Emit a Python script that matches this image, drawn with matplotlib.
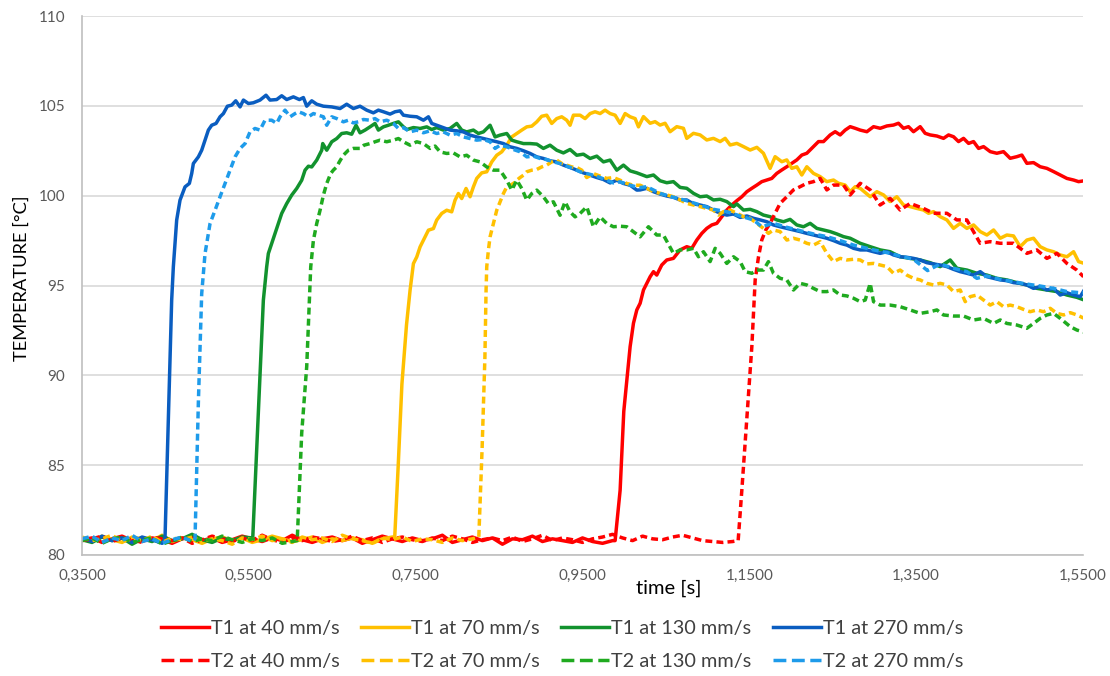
import numpy as np
import matplotlib
matplotlib.use("Agg")
import matplotlib.pyplot as plt
from matplotlib.lines import Line2D

# ---------------- data (time [s], temperature [°C]) ----------------
BASE_START = 0.35
BASE_STEP = 0.012

# flat pre-heating part of each record (one value every BASE_STEP s from 0.35 s)
t1_40_base = [80.85, 80.95, 80.7, 80.9, 81.05, 80.8, 80.75, 80.95, 80.85, 80.65, 80.9, 81.0, 80.8, 80.95,
              80.7, 80.85, 81.05, 80.9, 80.75, 80.95, 80.8, 81.1, 80.85, 80.7, 80.9, 81.0, 80.8, 80.95,
              80.65, 80.85, 81.05, 80.9, 80.75, 80.95, 80.8, 80.9, 81.1, 80.7, 80.85, 81.0, 80.8, 80.95,
              80.6, 80.9, 80.85, 81.05, 80.75, 80.9, 80.8, 80.7, 80.95, 80.75, 80.65, 80.8]
t1_70_base = [80.9, 80.75, 81.05, 80.85, 80.7, 81.0, 80.9, 80.8, 81.1, 80.75, 80.95, 80.85, 80.65, 80.9,
              81.0, 80.8, 80.95, 80.7, 80.85, 81.05, 80.9, 80.75, 80.85, 81.0, 80.7, 80.9, 80.8, 80.95,
              80.85, 80.65, 80.9, 81.0]
t1_130_base = [80.85, 80.7, 81.0, 80.8, 80.95, 80.6, 80.9, 80.75, 81.05, 80.8, 80.9, 81.15, 80.85, 80.7,
               80.95, 80.8, 81.0]
t1_270_base = [80.95, 80.75, 81.05, 80.8, 80.95, 80.7, 81.0, 80.85, 80.65]
t2_40_base = [80.8, 80.9, 81.05, 80.75, 80.95, 80.85, 80.7, 81.0, 80.9, 80.8, 80.95, 80.65, 80.85, 81.05,
              80.9, 80.75, 80.95, 80.8, 81.1, 80.85, 80.7, 80.95, 80.8, 81.0, 80.9, 80.75, 80.85, 81.05,
              80.8, 80.95, 80.7, 80.9, 81.0, 80.85, 80.75, 80.95, 80.8, 81.05, 80.9, 80.7, 80.85, 80.95,
              80.8, 81.0, 80.75, 80.9, 81.1, 80.8, 80.95, 80.85, 80.7, 80.9, 81.0, 81.15, 80.95, 80.8,
              81.05, 80.9, 80.85, 81.0, 81.1, 80.95, 80.8, 80.75, 80.7, 80.75]
t2_70_base = [81.0, 80.8, 80.9, 81.1, 80.75, 80.9, 80.8, 81.05, 80.7, 80.95, 80.85, 81.0, 80.75, 80.9,
              80.8, 80.6, 80.95, 80.85, 81.05, 80.8, 80.9, 80.7, 81.0, 80.85, 80.95, 80.75, 81.1, 80.9,
              80.8, 80.65, 80.95, 80.85, 81.0, 80.75, 80.9, 80.85, 80.7, 80.95, 80.8, 80.9]
t2_130_base = [80.8, 80.95, 80.65, 80.9, 81.0, 80.7, 80.85, 80.95, 80.6, 80.8, 81.0, 80.75, 80.9, 80.8,
               81.05, 80.85, 80.7, 80.9, 80.8, 80.95, 80.65, 80.75]
t2_270_base = [80.9, 81.05, 80.7, 80.95, 80.8, 81.1, 80.75, 80.9, 80.65, 80.85, 81.0, 80.75]

# heating / cooling part: (time, temperature)
t1_270_pts = [
    (0.4495, 80.9), (0.4535, 87.5), (0.4575, 94.18), (0.4595, 96.04), (0.4635, 98.64), (0.4675, 99.75),
    (0.4735, 100.49), (0.4787, 100.68), (0.4815, 101.23), (0.4835, 101.79), (0.4895, 102.16),
    (0.4935, 102.53), (0.4975, 103.09), (0.5015, 103.65), (0.5055, 103.92), (0.5107, 104.02),
    (0.5155, 104.39), (0.5195, 104.57), (0.5243, 104.98), (0.5295, 105.04), (0.5343, 105.28),
    (0.5395, 104.94), (0.5435, 105.32), (0.5495, 105.13), (0.5554, 105.17), (0.5634, 105.32),
    (0.5706, 105.59), (0.5754, 105.32), (0.5834, 105.35), (0.5894, 105.56), (0.5954, 105.35),
    (0.6034, 105.50), (0.6106, 105.35), (0.6154, 105.46), (0.6194, 104.98), (0.6254, 105.28),
    (0.6314, 105.09), (0.6394, 104.98), (0.6494, 104.94), (0.6594, 104.85), (0.6673, 105.09),
    (0.6753, 104.85), (0.6833, 104.98), (0.6913, 104.76), (0.6993, 104.61), (0.7053, 104.76),
    (0.7113, 104.67), (0.7193, 104.54), (0.7253, 104.67), (0.7313, 104.72), (0.7353, 104.48),
    (0.7433, 104.42), (0.7513, 104.39), (0.7593, 104.20), (0.7653, 104.39), (0.7693, 104.02),
    (0.7752, 103.92), (0.7832, 103.79), (0.7912, 103.65), (0.7992, 103.61), (0.8072, 103.55),
    (0.8152, 103.37), (0.8232, 103.27), (0.8312, 103.18), (0.8392, 103.09), (0.8472, 103.00),
    (0.8552, 102.90), (0.8632, 102.72), (0.8712, 102.63), (0.8792, 102.50), (0.8872, 102.35),
    (0.8952, 102.16), (0.9031, 102.07), (0.9111, 101.94), (0.9191, 101.88), (0.9271, 101.70),
    (0.9351, 101.57), (0.9431, 101.42), (0.9511, 101.27), (0.9591, 101.14), (0.9671, 101.01),
    (0.9751, 100.90), (0.9831, 100.71), (0.9911, 100.86), (0.9991, 100.68), (1.0071, 100.58),
    (1.0151, 100.31), (1.0191, 100.32), (1.0271, 100.41), (1.0351, 100.22), (1.0430, 100.09),
    (1.0510, 99.98), (1.0590, 99.91), (1.0670, 99.76), (1.0750, 99.76), (1.0830, 99.54),
    (1.0910, 99.48), (1.0990, 99.39), (1.1070, 99.20), (1.1150, 99.02), (1.1230, 98.92),
    (1.1310, 98.98), (1.1390, 98.79), (1.1470, 98.87), (1.1550, 98.74), (1.1630, 98.65),
    (1.1709, 98.55), (1.1789, 98.37), (1.1869, 98.27), (1.1949, 98.18), (1.2029, 98.09),
    (1.2109, 98.00), (1.2189, 97.90), (1.2269, 97.81), (1.2349, 97.72), (1.2429, 97.63),
    (1.2509, 97.50), (1.2589, 97.35), (1.2669, 97.25), (1.2749, 97.07), (1.2829, 96.98),
    (1.2909, 96.98), (1.2989, 96.88), (1.3069, 96.79), (1.3149, 96.88), (1.3228, 96.70),
    (1.3308, 96.60), (1.3388, 96.57), (1.3468, 96.51), (1.3548, 96.42), (1.3628, 96.27),
    (1.3708, 96.20), (1.3788, 96.14), (1.3868, 96.05), (1.3948, 95.90), (1.4028, 95.77),
    (1.4108, 95.68), (1.4188, 95.58), (1.4268, 95.77), (1.4348, 95.49), (1.4428, 95.40),
    (1.4508, 95.31), (1.4587, 95.27), (1.4667, 95.16), (1.4747, 95.12), (1.4827, 95.03),
    (1.4907, 94.84), (1.4987, 94.94), (1.5067, 94.75), (1.5147, 94.84), (1.5227, 94.47),
    (1.5307, 94.60), (1.5387, 94.47), (1.5467, 94.38), (1.5515, 94.75)]

t2_270_pts = [
    (0.4855, 80.9), (0.4895, 88.5), (0.4935, 94.55), (0.4975, 96.78), (0.5035, 98.45), (0.5095, 99.19),
    (0.5155, 99.94), (0.5215, 100.68), (0.5275, 101.42), (0.5335, 102.16), (0.5395, 102.63),
    (0.5455, 102.90), (0.5514, 103.55), (0.5574, 103.74), (0.5634, 103.65), (0.5694, 104.20),
    (0.5774, 104.20), (0.5834, 104.02), (0.5874, 104.39), (0.5934, 104.76), (0.5994, 104.39),
    (0.6054, 104.57), (0.6094, 104.67), (0.6154, 104.57), (0.6214, 104.39), (0.6274, 104.57),
    (0.6334, 104.48), (0.6394, 104.39), (0.6434, 103.92), (0.6494, 104.39), (0.6554, 104.29),
    (0.6634, 104.11), (0.6693, 104.20), (0.6753, 104.05), (0.6813, 104.11), (0.6873, 104.24),
    (0.6953, 104.20), (0.7013, 104.29), (0.7073, 104.11), (0.7153, 104.20), (0.7233, 104.02),
    (0.7293, 103.74), (0.7353, 103.79), (0.7433, 103.55), (0.7513, 103.65), (0.7593, 103.50),
    (0.7673, 103.61), (0.7752, 103.46), (0.7832, 103.55), (0.7912, 103.37), (0.7992, 103.46),
    (0.8072, 103.27), (0.8152, 103.18), (0.8232, 103.09), (0.8312, 103.13), (0.8392, 103.00),
    (0.8452, 102.63), (0.8512, 102.81), (0.8592, 102.72), (0.8672, 102.57), (0.8752, 102.44),
    (0.8832, 102.16), (0.8912, 102.20), (0.8992, 102.07), (0.9071, 102.01), (0.9151, 101.88),
    (0.9231, 101.79), (0.9311, 101.64), (0.9391, 101.51), (0.9471, 101.33), (0.9551, 101.23),
    (0.9631, 101.14), (0.9711, 101.01), (0.9791, 100.86), (0.9871, 100.71), (0.9951, 100.77),
    (1.0031, 100.64), (1.0111, 100.53), (1.0191, 100.45), (1.0271, 100.50), (1.0430, 100.13),
    (1.0590, 99.91), (1.0750, 99.72), (1.0910, 99.48), (1.1070, 99.24), (1.1230, 99.11),
    (1.1390, 98.87), (1.1550, 98.65), (1.1649, 98.27), (1.1789, 98.46), (1.1949, 98.24),
    (1.2109, 98.05), (1.2269, 97.87), (1.2429, 97.72), (1.2589, 97.50), (1.2749, 97.25),
    (1.2829, 97.16), (1.2989, 96.98), (1.3149, 96.83), (1.3308, 96.64), (1.3468, 96.46),
    (1.3636, 95.83), (1.3788, 96.20), (1.3948, 95.96), (1.4108, 95.77), (1.4228, 95.40),
    (1.4348, 95.53), (1.4508, 95.34), (1.4667, 95.21), (1.4827, 95.08), (1.4987, 94.97),
    (1.5147, 94.84), (1.5307, 94.66), (1.5467, 94.60), (1.5515, 94.60)]

t1_130_pts = [
    (0.5547, 80.95), (0.5610, 87.5), (0.5674, 94.18), (0.5714, 96.04), (0.5734, 96.78), (0.5774, 97.34),
    (0.5814, 97.89), (0.5854, 98.45), (0.5894, 99.01), (0.5954, 99.56), (0.6014, 100.03),
    (0.6074, 100.40), (0.6134, 100.86), (0.6174, 101.42), (0.6214, 101.64), (0.6254, 101.60),
    (0.6314, 101.98), (0.6374, 102.53), (0.6386, 102.90), (0.6434, 102.53), (0.6494, 103.00),
    (0.6554, 103.18), (0.6613, 103.46), (0.6673, 103.50), (0.6733, 103.42), (0.6785, 103.92),
    (0.6833, 103.50), (0.6893, 103.65), (0.6953, 103.83), (0.7013, 104.02), (0.7053, 103.65),
    (0.7113, 103.83), (0.7173, 103.92), (0.7233, 104.02), (0.7293, 104.11), (0.7353, 103.83),
    (0.7393, 103.68), (0.7473, 103.79), (0.7553, 103.74), (0.7633, 103.83), (0.7693, 103.68),
    (0.7752, 103.79), (0.7832, 103.65), (0.7912, 103.74), (0.7992, 104.02), (0.8052, 103.65),
    (0.8112, 103.55), (0.8192, 103.65), (0.8252, 103.46), (0.8312, 103.55), (0.8392, 103.92),
    (0.8452, 103.27), (0.8512, 103.37), (0.8592, 103.46), (0.8652, 103.09), (0.8712, 103.00),
    (0.8792, 102.90), (0.8872, 102.90), (0.8952, 102.87), (0.9031, 102.63), (0.9111, 102.81),
    (0.9191, 102.53), (0.9271, 102.38), (0.9351, 102.57), (0.9431, 102.25), (0.9511, 102.31),
    (0.9591, 102.07), (0.9671, 102.20), (0.9751, 101.88), (0.9831, 101.98), (0.9911, 101.42),
    (0.9991, 101.70), (1.0071, 101.38), (1.0151, 101.27), (1.0271, 101.06), (1.0351, 101.15),
    (1.0430, 100.83), (1.0510, 100.72), (1.0590, 100.78), (1.0670, 100.46), (1.0750, 100.41),
    (1.0830, 100.13), (1.0910, 99.94), (1.0990, 99.98), (1.1070, 99.76), (1.1150, 99.80),
    (1.1230, 99.67), (1.1310, 99.39), (1.1350, 99.54), (1.1430, 99.20), (1.1510, 99.24),
    (1.1590, 99.11), (1.1669, 98.92), (1.1749, 98.83), (1.1829, 98.65), (1.1909, 98.55),
    (1.1989, 98.68), (1.2069, 98.37), (1.2149, 98.27), (1.2229, 98.46), (1.2309, 98.18),
    (1.2389, 98.09), (1.2469, 98.00), (1.2549, 97.87), (1.2629, 97.72), (1.2709, 97.63),
    (1.2789, 97.44), (1.2829, 97.35), (1.2949, 97.16), (1.3069, 96.98), (1.3188, 96.88),
    (1.3308, 96.60), (1.3428, 96.51), (1.3548, 96.42), (1.3668, 96.27), (1.3788, 96.05),
    (1.3908, 96.42), (1.3988, 95.96), (1.4108, 95.86), (1.4228, 95.68), (1.4348, 95.58),
    (1.4467, 95.40), (1.4587, 95.31), (1.4707, 95.16), (1.4827, 95.03), (1.4947, 94.84),
    (1.5067, 94.75), (1.5187, 94.66), (1.5307, 94.47), (1.5427, 94.34), (1.5515, 94.19)]

t2_130_pts = [
    (0.6080, 80.8), (0.6134, 86.8), (0.6194, 90.5), (0.6226, 94.18), (0.6242, 96.04), (0.6274, 97.52),
    (0.6314, 98.45), (0.6354, 99.19), (0.6394, 100.03), (0.6434, 100.68), (0.6481, 101.23),
    (0.6513, 101.42), (0.6553, 101.60), (0.6585, 101.88), (0.6633, 102.25), (0.6693, 102.53),
    (0.6753, 102.63), (0.6833, 102.63), (0.6881, 102.81), (0.6953, 102.90), (0.7013, 103.00),
    (0.7073, 103.09), (0.7153, 103.00), (0.7233, 103.09), (0.7293, 103.18), (0.7353, 103.00),
    (0.7433, 102.81), (0.7513, 103.00), (0.7593, 102.90), (0.7673, 102.63), (0.7733, 102.76),
    (0.7792, 102.44), (0.7872, 102.35), (0.7952, 102.38), (0.8032, 102.16), (0.8112, 102.25),
    (0.8192, 101.98), (0.8272, 101.88), (0.8352, 101.60), (0.8432, 101.42), (0.8512, 101.42),
    (0.8592, 100.86), (0.8652, 100.31), (0.8712, 100.86), (0.8772, 100.40), (0.8832, 99.75),
    (0.8892, 100.12), (0.8952, 100.31), (0.9031, 99.94), (0.9091, 99.56), (0.9151, 99.66),
    (0.9231, 98.91), (0.9291, 99.66), (0.9351, 99.10), (0.9411, 98.82), (0.9471, 99.01),
    (0.9551, 99.38), (0.9631, 98.27), (0.9711, 98.82), (0.9791, 98.45), (0.9871, 98.27),
    (0.9951, 98.30), (1.0031, 98.27), (1.0111, 97.99), (1.0191, 97.71), (1.0291, 98.27),
    (1.0390, 97.81), (1.0470, 97.81), (1.0590, 96.79), (1.0670, 96.98), (1.0750, 96.98),
    (1.0830, 97.07), (1.0890, 96.60), (1.0950, 96.88), (1.1030, 96.33), (1.1090, 97.07),
    (1.1150, 96.79), (1.1230, 96.23), (1.1310, 96.60), (1.1390, 96.33), (1.1450, 95.77),
    (1.1530, 95.68), (1.1590, 95.86), (1.1669, 95.86), (1.1729, 96.33), (1.1789, 95.68),
    (1.1869, 95.40), (1.1949, 95.31), (1.2029, 94.75), (1.2109, 95.12), (1.2189, 95.03),
    (1.2269, 94.84), (1.2349, 94.66), (1.2429, 94.66), (1.2509, 94.75), (1.2589, 94.47),
    (1.2669, 94.42), (1.2749, 94.29), (1.2829, 94.10), (1.2889, 94.19), (1.2949, 95.12),
    (1.2989, 94.10), (1.3069, 93.91), (1.3188, 93.91), (1.3308, 93.82), (1.3428, 93.64),
    (1.3548, 93.45), (1.3668, 93.54), (1.3748, 93.64), (1.3828, 93.36), (1.3948, 93.30),
    (1.4068, 93.30), (1.4188, 93.08), (1.4308, 93.17), (1.4428, 92.89), (1.4508, 93.08),
    (1.4587, 92.89), (1.4707, 92.80), (1.4827, 92.62), (1.4907, 92.89), (1.4987, 93.17),
    (1.5067, 93.36), (1.5147, 93.45), (1.5227, 93.17), (1.5347, 92.71), (1.5427, 92.52),
    (1.5515, 92.40)]

t1_70_pts = [
    (0.7249, 81.0), (0.7290, 84.9), (0.7335, 89.5), (0.7390, 92.8), (0.7433, 94.74), (0.7473, 96.22),
    (0.7513, 96.59), (0.7553, 97.15), (0.7593, 97.52), (0.7653, 98.08), (0.7713, 98.17),
    (0.7752, 98.64), (0.7812, 99.01), (0.7872, 99.19), (0.7932, 99.10), (0.7972, 99.75),
    (0.8012, 100.12), (0.8052, 99.84), (0.8104, 100.40), (0.8152, 99.94), (0.8192, 100.49),
    (0.8232, 100.96), (0.8292, 101.27), (0.8352, 101.33), (0.8412, 101.88), (0.8472, 102.25),
    (0.8532, 102.44), (0.8592, 102.81), (0.8652, 103.27), (0.8712, 103.46), (0.8772, 103.65),
    (0.8832, 103.83), (0.8892, 103.87), (0.8952, 104.11), (0.9011, 104.42), (0.9071, 104.48),
    (0.9131, 104.02), (0.9191, 104.29), (0.9251, 104.39), (0.9311, 104.20), (0.9351, 103.92),
    (0.9391, 104.48), (0.9471, 104.48), (0.9531, 104.29), (0.9591, 104.57), (0.9651, 104.67),
    (0.9711, 104.57), (0.9771, 104.76), (0.9831, 104.57), (0.9891, 104.48), (0.9951, 104.02),
    (1.0011, 104.57), (1.0071, 104.39), (1.0131, 104.29), (1.0171, 103.83), (1.0231, 104.40),
    (1.0311, 104.03), (1.0370, 104.12), (1.0430, 103.93), (1.0490, 104.03), (1.0550, 103.56),
    (1.0630, 103.84), (1.0710, 103.75), (1.0750, 103.19), (1.0830, 103.47), (1.0910, 103.38),
    (1.0990, 103.10), (1.1070, 103.19), (1.1150, 103.01), (1.1210, 103.19), (1.1270, 102.82),
    (1.1350, 102.91), (1.1430, 102.73), (1.1510, 102.54), (1.1590, 102.69), (1.1669, 102.36),
    (1.1749, 101.52), (1.1809, 102.17), (1.1889, 101.89), (1.1949, 101.99), (1.2009, 101.52),
    (1.2069, 101.61), (1.2129, 101.15), (1.2189, 101.61), (1.2269, 101.24), (1.2349, 101.06),
    (1.2429, 100.78), (1.2509, 100.87), (1.2569, 100.69), (1.2649, 100.59), (1.2709, 100.22),
    (1.2769, 100.50), (1.2829, 100.41), (1.2949, 99.94), (1.3029, 100.22), (1.3109, 100.04),
    (1.3188, 99.67), (1.3268, 99.94), (1.3348, 99.48), (1.3428, 99.39), (1.3508, 99.29),
    (1.3588, 99.20), (1.3648, 99.02), (1.3708, 99.11), (1.3788, 98.83), (1.3868, 98.65),
    (1.3948, 98.18), (1.4028, 98.46), (1.4108, 98.18), (1.4188, 98.37), (1.4268, 98.00),
    (1.4348, 97.81), (1.4428, 98.09), (1.4508, 97.63), (1.4587, 97.81), (1.4667, 97.76),
    (1.4747, 97.16), (1.4827, 97.53), (1.4907, 97.63), (1.4987, 97.16), (1.5067, 96.98),
    (1.5147, 96.88), (1.5227, 96.70), (1.5307, 96.60), (1.5387, 96.88), (1.5447, 96.33),
    (1.5515, 96.23)]

t2_70_pts = [
    (0.8257, 81.0), (0.8297, 86.0), (0.8330, 91.0), (0.8344, 94.74), (0.8352, 96.04), (0.8372, 96.97),
    (0.8392, 97.71), (0.8432, 98.45), (0.8472, 99.19), (0.8512, 99.66), (0.8552, 100.12),
    (0.8592, 100.49), (0.8632, 100.58), (0.8672, 100.68), (0.8712, 100.86), (0.8752, 101.01),
    (0.8792, 101.14), (0.8832, 101.33), (0.8892, 101.42), (0.8952, 101.46), (0.9011, 101.60),
    (0.9071, 101.70), (0.9131, 101.88), (0.9191, 101.98), (0.9251, 101.79), (0.9311, 101.70),
    (0.9371, 101.60), (0.9431, 101.57), (0.9491, 101.42), (0.9551, 101.01), (0.9631, 101.23),
    (0.9711, 101.09), (0.9791, 100.96), (0.9871, 101.01), (0.9951, 100.86), (1.0031, 100.68),
    (1.0111, 100.58), (1.0191, 100.58), (1.0271, 100.41), (1.0351, 100.22), (1.0430, 100.13),
    (1.0510, 100.04), (1.0590, 99.94), (1.0670, 99.76), (1.0750, 99.57), (1.0830, 99.48),
    (1.0910, 99.39), (1.0990, 99.29), (1.1070, 99.20), (1.1130, 98.92), (1.1190, 99.11),
    (1.1270, 99.20), (1.1350, 99.02), (1.1430, 98.83), (1.1510, 98.74), (1.1590, 98.46),
    (1.1669, 98.18), (1.1729, 97.90), (1.1789, 98.09), (1.1869, 98.00), (1.1949, 97.53),
    (1.2029, 97.63), (1.2109, 97.53), (1.2189, 97.35), (1.2269, 97.25), (1.2349, 97.44),
    (1.2429, 96.79), (1.2509, 96.33), (1.2589, 96.51), (1.2669, 96.42), (1.2749, 96.46),
    (1.2829, 96.42), (1.2909, 96.20), (1.2989, 96.23), (1.3069, 96.14), (1.3149, 96.05),
    (1.3228, 95.68), (1.3308, 95.86), (1.3388, 95.58), (1.3468, 95.40), (1.3548, 95.31),
    (1.3628, 95.12), (1.3708, 95.03), (1.3788, 95.12), (1.3868, 95.03), (1.3948, 94.66),
    (1.4028, 94.75), (1.4088, 94.10), (1.4148, 94.38), (1.4228, 94.47), (1.4308, 94.19),
    (1.4388, 93.91), (1.4467, 94.10), (1.4547, 93.82), (1.4627, 93.91), (1.4707, 93.82),
    (1.4787, 93.67), (1.4867, 93.54), (1.4947, 93.64), (1.5027, 93.54), (1.5107, 93.73),
    (1.5187, 93.45), (1.5267, 93.36), (1.5347, 93.49), (1.5427, 93.36), (1.5515, 93.17)]

t1_40_pts = [
    (0.9891, 80.8), (0.9951, 83.6), (0.9995, 88.0), (1.0071, 91.6), (1.0111, 92.9), (1.0151, 93.64),
    (1.0191, 94.01), (1.0231, 94.75), (1.0271, 95.12), (1.0311, 95.49), (1.0351, 95.77),
    (1.0390, 95.58), (1.0450, 96.14), (1.0510, 96.42), (1.0590, 96.51), (1.0670, 96.98),
    (1.0750, 97.16), (1.0810, 97.07), (1.0870, 97.53), (1.0930, 97.90), (1.0990, 98.18),
    (1.1050, 98.37), (1.1110, 98.46), (1.1170, 98.83), (1.1230, 99.20), (1.1290, 99.48),
    (1.1350, 99.72), (1.1410, 99.94), (1.1470, 100.22), (1.1530, 100.41), (1.1590, 100.59),
    (1.1649, 100.78), (1.1709, 100.87), (1.1769, 100.96), (1.1829, 101.24), (1.1889, 101.43),
    (1.1949, 101.61), (1.2009, 101.80), (1.2069, 101.99), (1.2129, 102.26), (1.2189, 102.36),
    (1.2269, 102.73), (1.2329, 103.01), (1.2389, 103.01), (1.2469, 103.38), (1.2529, 103.56),
    (1.2589, 103.38), (1.2649, 103.65), (1.2709, 103.84), (1.2769, 103.75), (1.2829, 103.65),
    (1.2909, 103.56), (1.2989, 103.84), (1.3069, 103.75), (1.3149, 103.88), (1.3228, 103.93),
    (1.3288, 104.03), (1.3348, 103.75), (1.3408, 103.84), (1.3468, 103.56), (1.3548, 103.84),
    (1.3608, 103.47), (1.3668, 103.38), (1.3748, 103.32), (1.3828, 103.19), (1.3888, 103.38),
    (1.3948, 103.28), (1.4008, 103.01), (1.4068, 103.19), (1.4128, 102.91), (1.4188, 103.01),
    (1.4248, 102.63), (1.4308, 102.73), (1.4388, 102.45), (1.4467, 102.36), (1.4547, 102.45),
    (1.4627, 102.08), (1.4707, 102.17), (1.4767, 102.26), (1.4827, 101.80), (1.4907, 101.84),
    (1.4987, 101.61), (1.5067, 101.52), (1.5147, 101.34), (1.5227, 101.15), (1.5307, 100.96),
    (1.5387, 100.87), (1.5447, 100.78), (1.5515, 100.83)]

t2_40_pts = [
    (1.1366, 80.8), (1.1410, 83.6), (1.1476, 88.0), (1.1530, 91.60), (1.1570, 95.31), (1.1610, 96.60),
    (1.1649, 97.53), (1.1697, 98.09), (1.1749, 98.46), (1.1809, 99.02), (1.1869, 99.57),
    (1.1949, 99.94), (1.2029, 100.32), (1.2109, 100.50), (1.2189, 100.69), (1.2269, 100.78),
    (1.2349, 100.96), (1.2429, 100.32), (1.2509, 100.59), (1.2629, 100.59), (1.2709, 100.04),
    (1.2829, 100.69), (1.2949, 100.32), (1.3068, 99.48), (1.3188, 99.85), (1.3308, 99.20),
    (1.3428, 99.57), (1.3588, 99.29), (1.3708, 99.02), (1.3868, 99.02), (1.3988, 98.65),
    (1.4107, 98.65), (1.4267, 97.35), (1.4387, 97.44), (1.4507, 97.35), (1.4667, 97.35),
    (1.4827, 96.79), (1.4947, 96.98), (1.5067, 96.51), (1.5187, 96.79), (1.5307, 96.23),
    (1.5426, 95.86), (1.5506, 95.49)]

x_ticks = [0.35, 0.55, 0.75, 0.95, 1.15, 1.35, 1.55]
y_ticks = [80, 85, 90, 95, 100, 105, 110]

# ---------------- styling ----------------
FONT = ["Lato", "DejaVu Sans"]
plt.rcParams["font.family"] = FONT

RED = "#FF0000"
GOLD = "#FFC000"
GREEN1 = "#12922E"
GREEN2 = "#1FAA1F"
BLUE1 = "#0A5DC0"
BLUE2 = "#1E9BEA"
LW = 2.5
DASH = (0, (2.0, 1.2))

series = [
    ("T1 at 40 mm/s", t1_40_base, t1_40_pts, RED, "-"),
    ("T1 at 70 mm/s", t1_70_base, t1_70_pts, GOLD, "-"),
    ("T1 at 130 mm/s", t1_130_base, t1_130_pts, GREEN1, "-"),
    ("T1 at 270 mm/s", t1_270_base, t1_270_pts, BLUE1, "-"),
    ("T2 at 40 mm/s", t2_40_base, t2_40_pts, RED, DASH),
    ("T2 at 70 mm/s", t2_70_base, t2_70_pts, GOLD, DASH),
    ("T2 at 130 mm/s", t2_130_base, t2_130_pts, GREEN2, DASH),
    ("T2 at 270 mm/s", t2_270_base, t2_270_pts, BLUE2, DASH),
]


def build(base, pts):
    t_rise = np.array([p[0] for p in pts])
    T_rise = np.array([p[1] for p in pts])
    bt = BASE_START + BASE_STEP * np.arange(len(base))
    bv = np.array(base)
    keep = bt < t_rise[0]
    return np.concatenate([bt[keep], t_rise]), np.concatenate([bv[keep], T_rise])


fig = plt.figure(figsize=(11.10, 6.76), dpi=100)
ax = fig.add_axes([82 / 1110, 1 - 555 / 676, (1083 - 82) / 1110, (555 - 16) / 676])

handles = {}
for label, base, pts, color, ls in series:
    t, T = build(base, pts)
    ln, = ax.plot(t, T, color=color, lw=LW, linestyle=ls, solid_joinstyle="round",
                  dash_capstyle="butt", label=label, clip_on=True)
    handles[label] = ln

ax.set_xlim(0.35, 1.55)
ax.set_ylim(80, 110)
ax.set_xticks(x_ticks)
ax.set_xticklabels([f"{v:.4f}".replace(".", ",") for v in x_ticks])
ax.set_yticks(y_ticks)
ax.tick_params(axis="both", length=0, labelsize=11, labelcolor="#595959")
ax.tick_params(axis="y", pad=12)
ax.tick_params(axis="x", pad=10)
ax.yaxis.grid(True, color="#D9D9D9", lw=1.2)
ax.set_axisbelow(True)
for s in ("top", "right"):
    ax.spines[s].set_visible(False)
for s in ("left", "bottom"):
    ax.spines[s].set_color("#BFBFBF")
    ax.spines[s].set_linewidth(1.2)

fig.text(669 / 1110, 1 - 588 / 676, "time [s]", ha="center", va="center", fontsize=14.5, color="#000000")
fig.text(22 / 1110, 1 - 278 / 676, "TEMPERATURE [°C]", ha="center", va="center", rotation=90,
         fontsize=13.2, color="#000000")

order = ["T1 at 40 mm/s", "T2 at 40 mm/s", "T1 at 70 mm/s", "T2 at 70 mm/s",
         "T1 at 130 mm/s", "T2 at 130 mm/s", "T1 at 270 mm/s", "T2 at 270 mm/s"]
leg_handles = [Line2D([0], [0], color=handles[k].get_color(), lw=LW, linestyle=handles[k].get_linestyle())
               for k in order]
leg = fig.legend(leg_handles, order, loc="center", bbox_to_anchor=(562 / 1110, 1 - 645 / 676), ncol=4,
                 frameon=False, fontsize=14.3, handlelength=2.4, handletextpad=0.1, columnspacing=1.1,
                 labelspacing=0.8, borderaxespad=0)
for txt in leg.get_texts():
    txt.set_color("#404040")

fig.savefig("out.png", dpi=100, facecolor="white")
